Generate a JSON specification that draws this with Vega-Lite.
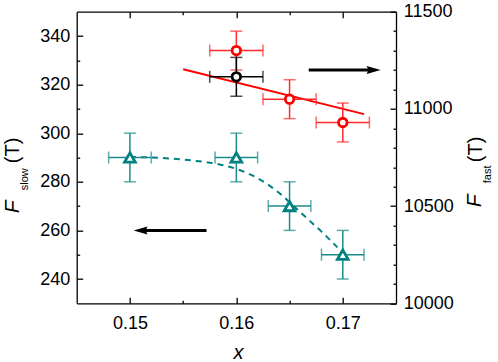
{
  "$schema": "https://vega.github.io/schema/vega-lite/v6.json",
  "width": 319.3,
  "height": 291.6,
  "autosize": "none",
  "padding": {"left": 76.7, "top": 11.7, "right": 102, "bottom": 58.7},
  "background": "white",
  "datasets": {
    "teal": [
      {"x": 0.15, "y": 290, "xlo": 0.148, "xhi": 0.152, "ylo": 280, "yhi": 300},
      {"x": 0.16, "y": 290, "xlo": 0.158, "xhi": 0.162, "ylo": 280, "yhi": 300},
      {"x": 0.165, "y": 270, "xlo": 0.163, "xhi": 0.167, "ylo": 260, "yhi": 280},
      {"x": 0.17, "y": 250, "xlo": 0.168, "xhi": 0.172, "ylo": 240, "yhi": 260}
    ],
    "tealcurve": [
      {"x": 0.150, "y": 290.2}, {"x": 0.152, "y": 290.0}, {"x": 0.154, "y": 289.5},
      {"x": 0.156, "y": 288.7}, {"x": 0.158, "y": 287.5}, {"x": 0.160, "y": 285.3},
      {"x": 0.162, "y": 281.5}, {"x": 0.164, "y": 275.5}, {"x": 0.166, "y": 267.5},
      {"x": 0.168, "y": 259.5}, {"x": 0.1695, "y": 253}
    ],
    "red": [
      {"x": 0.16, "y": 11300, "xlo": 0.1575, "xhi": 0.1625, "ylo": 11200, "yhi": 11400},
      {"x": 0.165, "y": 11050, "xlo": 0.1625, "xhi": 0.1675, "ylo": 10950, "yhi": 11150},
      {"x": 0.17, "y": 10930, "xlo": 0.1675, "xhi": 0.1725, "ylo": 10830, "yhi": 11030}
    ],
    "black": [
      {"x": 0.16, "y": 11165, "xlo": 0.1575, "xhi": 0.1625, "ylo": 11065, "yhi": 11265}
    ],
    "redline": [
      {"x": 0.155, "y": 11204},
      {"x": 0.172, "y": 10973}
    ],
    "arrowleft": [{"xhead": 0.1510, "xtail": 0.1572, "y": 260}],
    "arrowright": [{"xhead": 0.1729, "xtail": 0.1668, "y": 11200}]
  },
  "layer": [
    {
      "layer": [
        {
          "data": {"name": "tealcurve"},
          "mark": {"type": "line", "color": "#008080", "strokeWidth": 2, "strokeDash": [6, 5], "interpolate": "monotone"},
          "encoding": {
            "x": {"field": "x", "type": "quantitative", "scale": {"domain": [0.145, 0.175], "nice": false, "zero": false},
              "axis": {"orient": "bottom", "values": [0.15, 0.16, 0.17], "format": ".2f", "tickSize": -6, "labelPadding": 16.7, "labelFlush": false,
                "title": "x", "titleFontStyle": "italic", "titleFontSize": 20, "titleAngle": 0, "titleX": 161.3, "titleY": 54.7, "titleAlign": "center", "titleBaseline": "alphabetic"}},
            "y": {"field": "y", "type": "quantitative", "scale": {"domain": [230, 350], "nice": false, "zero": false},
              "axis": {"orient": "left", "values": [240, 260, 280, 300, 320, 340], "tickSize": -6, "labelPadding": 13,
                "title": "F", "titleFontStyle": "italic", "titleFontSize": 21, "titleAngle": 270, "titleX": -58, "titleY": 201, "titleAlign": "left", "titleBaseline": "alphabetic"}}
          }
        },
        {
          "data": {"name": "teal"},
          "mark": {"type": "rule", "color": "#1a8a8a", "strokeWidth": 1.5},
          "encoding": {
            "x": {"field": "xlo", "type": "quantitative",
              "axis": {"orient": "bottom", "values": [0.155, 0.165], "tickSize": -3, "labels": false, "domain": false, "title": null}},
            "x2": {"field": "xhi"},
            "y": {"field": "y", "type": "quantitative",
              "axis": {"orient": "left", "values": [250, 270, 290, 310, 330], "tickSize": -3, "labels": false, "domain": false,
                "title": "slow", "titleFontStyle": "normal", "titleFontSize": 11, "titleAngle": 270, "titleX": -49, "titleY": 178, "titleAlign": "left", "titleBaseline": "alphabetic"}}
          }
        },
        {
          "data": {"name": "teal"},
          "mark": {"type": "rule", "color": "#1a8a8a", "strokeWidth": 1.5},
          "encoding": {
            "x": {"field": "x", "type": "quantitative", "axis": null},
            "y": {"field": "ylo", "type": "quantitative",
              "axis": {"orient": "left", "ticks": false, "labels": false, "domain": false,
                "title": "(T)", "titleFontStyle": "normal", "titleFontSize": 20, "titleAngle": 270, "titleX": -58, "titleY": 151, "titleAlign": "left", "titleBaseline": "alphabetic"}},
            "y2": {"field": "yhi"}
          }
        },
        {
          "data": {"name": "teal"},
          "mark": {"type": "tick", "orient": "vertical", "color": "#1a8a8a", "size": 12, "thickness": 1.5},
          "encoding": {
            "x": {"field": "xlo", "type": "quantitative", "axis": null},
            "y": {"field": "y", "type": "quantitative", "axis": null}
          }
        },
        {
          "data": {"name": "teal"},
          "mark": {"type": "tick", "orient": "vertical", "color": "#1a8a8a", "size": 12, "thickness": 1.5},
          "encoding": {
            "x": {"field": "xhi", "type": "quantitative", "axis": null},
            "y": {"field": "y", "type": "quantitative", "axis": null}
          }
        },
        {
          "data": {"name": "teal"},
          "mark": {"type": "tick", "orient": "horizontal", "color": "#1a8a8a", "size": 12, "thickness": 1.5},
          "encoding": {
            "x": {"field": "x", "type": "quantitative", "axis": null},
            "y": {"field": "ylo", "type": "quantitative", "axis": null}
          }
        },
        {
          "data": {"name": "teal"},
          "mark": {"type": "tick", "orient": "horizontal", "color": "#1a8a8a", "size": 12, "thickness": 1.5},
          "encoding": {
            "x": {"field": "x", "type": "quantitative", "axis": null},
            "y": {"field": "yhi", "type": "quantitative", "axis": null}
          }
        },
        {
          "data": {"name": "teal"},
          "mark": {"type": "point", "shape": "triangle-up", "size": 115, "filled": true, "fill": "white", "stroke": "#008080", "strokeWidth": 2.8, "opacity": 1},
          "encoding": {
            "x": {"field": "x", "type": "quantitative", "axis": null},
            "y": {"field": "y", "type": "quantitative", "axis": null}
          }
        },
        {
          "data": {"name": "arrowleft"},
          "mark": {"type": "rule", "color": "black", "strokeWidth": 3},
          "encoding": {
            "x": {"field": "xhead", "type": "quantitative", "axis": null},
            "x2": {"field": "xtail"},
            "y": {"field": "y", "type": "quantitative", "axis": null}
          }
        },
        {
          "data": {"name": "arrowleft"},
          "mark": {"type": "point", "shape": "M1,-0.57L-1,0L1,0.57L0.75,0Z", "size": 196, "filled": true, "color": "black", "opacity": 1},
          "encoding": {
            "x": {"field": "xhead", "type": "quantitative", "axis": null},
            "y": {"field": "y", "type": "quantitative", "axis": null}
          }
        }
      ],
      "resolve": {"axis": {"x": "independent", "y": "independent"}}
    },
    {
      "layer": [
        {
          "data": {"name": "redline"},
          "mark": {"type": "line", "color": "#ff0000", "strokeWidth": 2},
          "encoding": {
            "x": {"field": "x", "type": "quantitative",
              "axis": {"orient": "top", "values": [0.15, 0.16, 0.17], "tickSize": -6, "labels": false, "title": null}},
            "y": {"field": "y", "type": "quantitative", "scale": {"domain": [10000, 11500], "nice": false, "zero": false},
              "axis": {"orient": "right", "values": [10000, 10500, 11000, 11500], "format": "d", "tickSize": -6, "labelPadding": 13.3, "labelFlush": false,
                "title": "F", "titleFontStyle": "italic", "titleFontSize": 21, "titleAngle": 270, "titleX": 84, "titleY": 195, "titleAlign": "left", "titleBaseline": "alphabetic"}}
          }
        },
        {
          "data": {"name": "red"},
          "mark": {"type": "rule", "color": "#ff2a2a", "strokeWidth": 1.5},
          "encoding": {
            "x": {"field": "xlo", "type": "quantitative",
              "axis": {"orient": "top", "values": [0.155, 0.165], "tickSize": -3, "labels": false, "domain": false, "title": null}},
            "x2": {"field": "xhi"},
            "y": {"field": "y", "type": "quantitative",
              "axis": {"orient": "right", "values": [10100, 10200, 10300, 10400, 10600, 10700, 10800, 10900, 11100, 11200, 11300, 11400], "tickSize": -3, "labels": false, "domain": false,
                "title": "fast", "titleFontStyle": "normal", "titleFontSize": 11, "titleAngle": 270, "titleX": 94, "titleY": 171, "titleAlign": "left", "titleBaseline": "alphabetic"}}
          }
        },
        {
          "data": {"name": "red"},
          "mark": {"type": "rule", "color": "#ff2a2a", "strokeWidth": 1.5},
          "encoding": {
            "x": {"field": "x", "type": "quantitative", "axis": null},
            "y": {"field": "ylo", "type": "quantitative",
              "axis": {"orient": "right", "ticks": false, "labels": false, "domain": false,
                "title": "(T)", "titleFontStyle": "normal", "titleFontSize": 20, "titleAngle": 270, "titleX": 85, "titleY": 150, "titleAlign": "left", "titleBaseline": "alphabetic"}},
            "y2": {"field": "yhi"}
          }
        },
        {
          "data": {"name": "red"},
          "mark": {"type": "tick", "orient": "vertical", "color": "#ff2a2a", "size": 12, "thickness": 1.5},
          "encoding": {
            "x": {"field": "xlo", "type": "quantitative", "axis": null},
            "y": {"field": "y", "type": "quantitative", "axis": null}
          }
        },
        {
          "data": {"name": "red"},
          "mark": {"type": "tick", "orient": "vertical", "color": "#ff2a2a", "size": 12, "thickness": 1.5},
          "encoding": {
            "x": {"field": "xhi", "type": "quantitative", "axis": null},
            "y": {"field": "y", "type": "quantitative", "axis": null}
          }
        },
        {
          "data": {"name": "red"},
          "mark": {"type": "tick", "orient": "horizontal", "color": "#ff2a2a", "size": 12, "thickness": 1.5},
          "encoding": {
            "x": {"field": "x", "type": "quantitative", "axis": null},
            "y": {"field": "ylo", "type": "quantitative", "axis": null}
          }
        },
        {
          "data": {"name": "red"},
          "mark": {"type": "tick", "orient": "horizontal", "color": "#ff2a2a", "size": 12, "thickness": 1.5},
          "encoding": {
            "x": {"field": "x", "type": "quantitative", "axis": null},
            "y": {"field": "yhi", "type": "quantitative", "axis": null}
          }
        },
        {
          "data": {"name": "black"},
          "mark": {"type": "rule", "color": "black", "strokeWidth": 1.5},
          "encoding": {
            "x": {"field": "xlo", "type": "quantitative", "axis": null},
            "x2": {"field": "xhi"},
            "y": {"field": "y", "type": "quantitative", "axis": null}
          }
        },
        {
          "data": {"name": "black"},
          "mark": {"type": "rule", "color": "black", "strokeWidth": 1.5},
          "encoding": {
            "x": {"field": "x", "type": "quantitative", "axis": null},
            "y": {"field": "ylo", "type": "quantitative", "axis": null},
            "y2": {"field": "yhi"}
          }
        },
        {
          "data": {"name": "black"},
          "mark": {"type": "tick", "orient": "vertical", "color": "black", "size": 12, "thickness": 1.5},
          "encoding": {
            "x": {"field": "xlo", "type": "quantitative", "axis": null},
            "y": {"field": "y", "type": "quantitative", "axis": null}
          }
        },
        {
          "data": {"name": "black"},
          "mark": {"type": "tick", "orient": "vertical", "color": "black", "size": 12, "thickness": 1.5},
          "encoding": {
            "x": {"field": "xhi", "type": "quantitative", "axis": null},
            "y": {"field": "y", "type": "quantitative", "axis": null}
          }
        },
        {
          "data": {"name": "black"},
          "mark": {"type": "tick", "orient": "horizontal", "color": "black", "size": 12, "thickness": 1.5},
          "encoding": {
            "x": {"field": "x", "type": "quantitative", "axis": null},
            "y": {"field": "ylo", "type": "quantitative", "axis": null}
          }
        },
        {
          "data": {"name": "black"},
          "mark": {"type": "tick", "orient": "horizontal", "color": "black", "size": 12, "thickness": 1.5},
          "encoding": {
            "x": {"field": "x", "type": "quantitative", "axis": null},
            "y": {"field": "yhi", "type": "quantitative", "axis": null}
          }
        },
        {
          "data": {"name": "black"},
          "mark": {"type": "point", "shape": "circle", "size": 72, "filled": true, "fill": "white", "stroke": "black", "strokeWidth": 2.8, "opacity": 1},
          "encoding": {
            "x": {"field": "x", "type": "quantitative", "axis": null},
            "y": {"field": "y", "type": "quantitative", "axis": null}
          }
        },
        {
          "data": {"name": "red"},
          "mark": {"type": "point", "shape": "circle", "size": 72, "filled": true, "fill": "white", "stroke": "#ff0000", "strokeWidth": 2.8, "opacity": 1},
          "encoding": {
            "x": {"field": "x", "type": "quantitative", "axis": null},
            "y": {"field": "y", "type": "quantitative", "axis": null}
          }
        },
        {
          "data": {"name": "arrowright"},
          "mark": {"type": "rule", "color": "black", "strokeWidth": 3},
          "encoding": {
            "x": {"field": "xtail", "type": "quantitative", "axis": null},
            "x2": {"field": "xhead"},
            "y": {"field": "y", "type": "quantitative", "axis": null}
          }
        },
        {
          "data": {"name": "arrowright"},
          "mark": {"type": "point", "shape": "M-1,-0.57L1,0L-1,0.57L-0.75,0Z", "size": 196, "filled": true, "color": "black", "opacity": 1},
          "encoding": {
            "x": {"field": "xhead", "type": "quantitative", "axis": null},
            "y": {"field": "y", "type": "quantitative", "axis": null}
          }
        }
      ],
      "resolve": {"axis": {"x": "independent", "y": "independent"}}
    }
  ],
  "resolve": {"scale": {"y": "independent"}, "axis": {"x": "independent"}},
  "config": {
    "view": {"stroke": null},
    "axis": {
      "grid": false,
      "labelFont": "Liberation Sans",
      "labelFontSize": 18,
      "labelColor": "black",
      "domainColor": "black",
      "domainWidth": 1.3,
      "tickColor": "black",
      "tickWidth": 1.3,
      "titleFont": "Liberation Sans",
      "titleColor": "black",
      "titleFontWeight": "normal"
    }
  }
}
